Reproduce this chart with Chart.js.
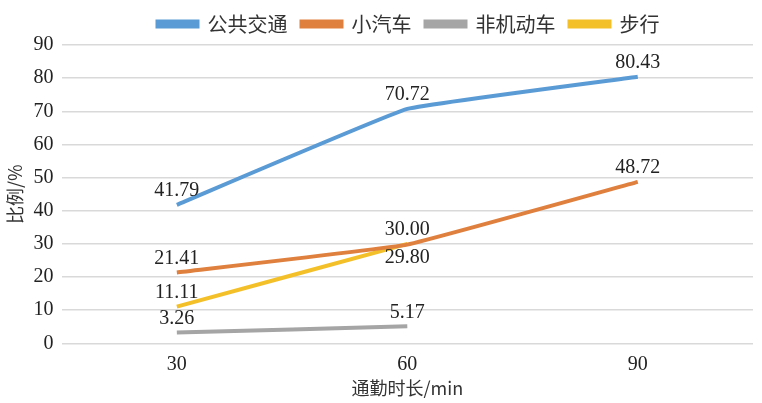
<!DOCTYPE html>
<html>
<head>
<meta charset="utf-8">
<script src="https://cdn.jsdelivr.net/npm/chart.js@4"></script>
<style>
  html, body { margin: 0; padding: 0; background: #fff; }
  #wrap { width: 762px; height: 403px; }
</style>
</head>
<body>
<div id="wrap"><canvas id="chart"></canvas></div>
<script>
const categories = ["30", "60", "90"];
const transit = [41.79, 70.72, 80.43];
const car = [21.41, 29.80, 48.72];
const bike = [3.26, 5.17, null];
const walk = [11.11, 30.00, null];

const serif = "'Liberation Serif', 'Times New Roman', serif";
const cjk = "'Noto Sans CJK SC', sans-serif";

// label placement: -1 draws under the point
const labelSide = {
  1: [1, -1, 1]
};

const pointLabels = {
  id: "pointLabels",
  afterDatasetsDraw(chart) {
    const ctx = chart.ctx;
    ctx.save();
    ctx.font = "20px " + serif;
    ctx.fillStyle = "#222";
    ctx.textAlign = "center";
    chart.data.datasets.forEach((ds, di) => {
      const meta = chart.getDatasetMeta(di);
      meta.data.forEach((pt, i) => {
        const v = ds.data[i];
        if (v == null) return;
        const side = (labelSide[di] || [])[i] || 1;
        if (side > 0) {
          ctx.textBaseline = "bottom";
          ctx.fillText(v.toFixed(2), pt.x, pt.y - 4);
        } else {
          ctx.textBaseline = "top";
          ctx.fillText(v.toFixed(2), pt.x, pt.y + 3);
        }
      });
    });
    ctx.restore();
  }
};

// legend sits centred over the plot area, with a little room below it
const legendTweak = {
  id: "legendTweak",
  beforeInit(chart) {
    const lg = chart.legend;
    const fit = lg.fit;
    lg.fit = function () {
      fit.call(this);
      this.height += 1;
    };
    const draw = lg.draw;
    lg.draw = function () {
      const ctx = this.ctx;
      ctx.save();
      ctx.translate(30, 0);
      draw.call(this);
      ctx.restore();
    };
  }
};

const line = (label, data, color) => ({
  label, data,
  borderColor: color,
  backgroundColor: color,
  borderWidth: 4,
  pointRadius: 0,
  tension: 0.08,
  spanGaps: false
});

new Chart(document.getElementById("chart"), {
  type: "line",
  data: {
    labels: categories,
    datasets: [
      line("公共交通", transit, "#5b9bd5"),
      line("小汽车", car, "#e0803f"),
      line("非机动车", bike, "#a5a5a5"),
      line("步行", walk, "#f4c02a")
    ]
  },
  options: {
    responsive: true,
    maintainAspectRatio: false,
    animation: false,
    layout: { padding: { left: 4, right: 9, top: 0, bottom: 4 } },
    plugins: {
      legend: {
        position: "top",
        labels: {
          font: { family: cjk, size: 20 },
          color: "#333",
          boxWidth: 40,
          boxHeight: 5,
          padding: 14
        }
      },
      tooltip: { enabled: false }
    },
    scales: {
      x: {
        offset: true,
        grid: { display: false },
        border: { display: false },
        ticks: { font: { family: serif, size: 20 }, color: "#222", padding: 1 },
        title: { display: true, text: "通勤时长/min", font: { family: cjk, size: 18 }, color: "#333", padding: { top: 0, bottom: 0 } }
      },
      y: {
        min: 0, max: 90,
        ticks: { stepSize: 10, font: { family: serif, size: 20 }, color: "#222", padding: 8 },
        grid: { color: "#d9d9d9", lineWidth: 1.5, drawTicks: false },
        border: { display: false },
        title: { display: true, text: "比例/%", font: { family: cjk, size: 18 }, color: "#333", padding: 0 }
      }
    }
  },
  plugins: [pointLabels, legendTweak]
});
</script>
</body>
</html>
